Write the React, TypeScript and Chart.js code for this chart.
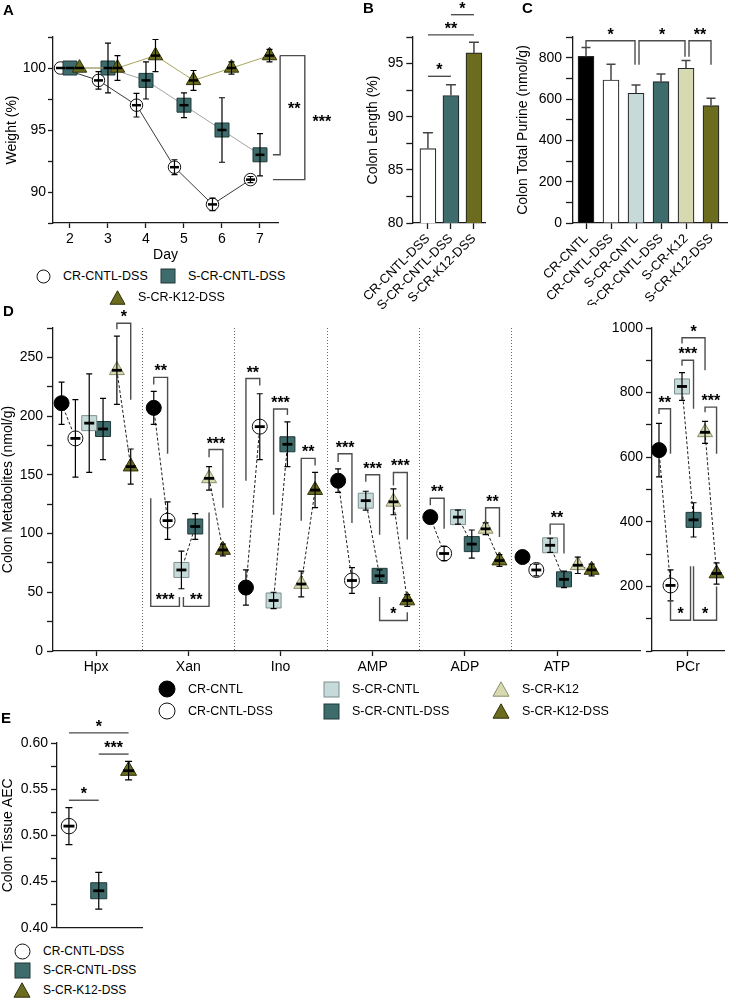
import React, { useEffect, useRef } from 'react';
import { Chart, registerables } from 'chart.js';

Chart.register(...registerables);

const FONT = "'Liberation Sans', Arial, Helvetica, sans-serif";
Chart.defaults.font.family = FONT;
Chart.defaults.color = '#000';

// ---------------- Panel A: body weight ----------------
const dayTicks = [2, 3, 4, 5, 6, 7];
const weightCrCntlDss = [100, 99, 97, 92, 89, 91];
const weightCrCntlDssErr = [0, 0.7, 0.95, 0.6, 0.5, 0.25];
const weightSCrCntlDss = [100, 100, 99, 97, 95, 93];
const weightSCrCntlDssErr = [0, 2, 1.5, 1, 2.6, 1.7];
const weightSCrK12Dss = [100, 100, 101, 99, 100, 101];
const weightSCrK12DssErr = [0, 1, 1.3, 0.8, 0.5, 0.5];
// [top value, bottom value, label]
const weightSig: [number, number, string][] = [
  [101, 93, '**'],
  [101, 91, '***'],
];

// ---------------- Panel B: colon length ----------------
const dssGroups = ['CR-CNTL-DSS', 'S-CR-CNTL-DSS', 'S-CR-K12-DSS'];
const colonLength = [87, 92, 96];
const colonLengthErr = [1.5, 1, 1];
// [group a, group b, level, label]
const lengthSig: [number, number, number, string][] = [
  [0, 1, 93.8, '*'],
  [0, 2, 97.7, '**'],
  [1, 2, 99.6, '*'],
];

// ---------------- Panel C: total purine ----------------
const allGroups = ['CR-CNTL', 'CR-CNTL-DSS', 'S-CR-CNTL', 'S-CR-CNTL-DSS', 'S-CR-K12', 'S-CR-K12-DSS'];
const totalPurine = [806, 692, 628, 684, 749, 568];
const totalPurineErr = [43, 76, 40, 37, 37, 36];
// [group a, group b, level, leg a end, leg b end, label]
const purineSig: [number, number, number, number, number, string][] = [
  [0, 2, 882, 848, 766, '*'],
  [2, 4, 882, 766, 805, '*'],
  [4, 5, 882, 805, 766, '**'],
];

// ---------------- Panel D: metabolites ----------------
const metabolites = ['Hpx', 'Xan', 'Ino', 'AMP', 'ADP', 'ATP'];
const metCrCntl = [211, 207, 54, 145, 114, 80];
const metCrCntlErr = [18, 14, 15, 10, 4, 3];
const metCrCntlDss = [181, 111, 191, 60, 83, 69];
const metCrCntlDssErr = [33, 16, 28, 11, 6, 5];
const metSCrCntl = [194, 69, 43, 128, 114, 90];
const metSCrCntlErr = [42, 16, 7, 8, 6, 6];
const metSCrCntlDss = [189, 106, 176, 64, 91, 61];
const metSCrCntlDssErr = [26, 11, 19, 5, 12, 7];
const metSCrK12 = [239, 147, 57, 127, 104, 73];
const metSCrK12Err = [29, 10, 11, 11, 5, 7];
const metSCrK12Dss = [157, 86, 137, 43, 77, 69];
const metSCrK12DssErr = [15, 5, 15, 5, 5, 5];

const pcrLabels = ['PCr'];
const pcrMeans = [622, 203, 819, 406, 677, 240];
const pcrErr = [83, 48, 43, 53, 34, 33];

// [category, group a, group b, level, leg a end, leg b end, label]
const metSig: [number, number, number, number, number, number, string][] = [
  [0, 4, 5, 279, 274, 214, '*'],
  [1, 0, 1, 233, 227, 168, '**'],
  [1, 4, 5, 171.5, 165, 122, '***'],
  [1, 0, 2, 38, 130, 46, '***'],
  [1, 2, 4, 38, 46, 118, '**'],
  [2, 0, 1, 232, 145, 226, '**'],
  [2, 2, 3, 206, 116, 201, '***'],
  [2, 4, 5, 164, 111, 158, '**'],
  [3, 0, 1, 168, 161, 109, '***'],
  [3, 2, 3, 150, 144, 99, '***'],
  [3, 4, 5, 152, 141, 95, '***'],
  [3, 3, 5, 26, 46, 33, '*'],
  [4, 0, 1, 130, 124, 104, '**'],
  [4, 4, 5, 122, 109, 97, '**'],
  [5, 2, 3, 108, 99, 83, '**'],
];
const pcrSig: [number, number, number, number, number, number, string][] = [
  [0, 0, 1, 750, 734, 611, '**'],
  [0, 2, 3, 900, 883, 750, '***'],
  [0, 2, 4, 970, 952, 869, '*'],
  [0, 4, 5, 755, 739, 611, '***'],
  [0, 1, 3, 95, 158, 262, '*'],
  [0, 3, 5, 95, 262, 200, '*'],
];

// ---------------- Panel E: AEC ----------------
const aecMeans = [0.51, 0.44, 0.57];
const aecErr = [0.02, 0.02, 0.01];
const aecSig: [number, number, number, string][] = [
  [0, 1, 0.538, '*'],
  [1, 2, 0.588, '***'],
  [0, 2, 0.611, '*'],
];

// ---------------- styles ----------------
const GROUP_STYLE = [
  { fill: '#000000', stroke: '#000000', shape: 'circle' },
  { fill: '#ffffff', stroke: '#111111', shape: 'circle' },
  { fill: '#c6dada', stroke: '#7d8f8f', shape: 'rect' },
  { fill: '#3e6b6b', stroke: '#1f3939', shape: 'rect' },
  { fill: '#d7dab0', stroke: '#8a8c68', shape: 'triangle' },
  { fill: '#6b6c1e', stroke: '#303109', shape: 'triangle' },
];
const AXIS = '#1a1a1a';
const BRACKET = '#4d4d4d';
const GROUP_OFFS = [-0.375, -0.225, -0.075, 0.075, 0.225, 0.375];

function radiusFor(shape: string, size: number) {
  if (shape === 'circle') return size / 2;
  if (shape === 'rect') return size / Math.SQRT2;
  return size / Math.sqrt(3);
}

function drawStars(ctx: CanvasRenderingContext2D, x: number, baseline: number, label: string) {
  ctx.save();
  ctx.fillStyle = '#000';
  ctx.font = `bold 16px ${FONT}`;
  ctx.textAlign = 'center';
  ctx.textBaseline = 'alphabetic';
  ctx.fillText(label, x, baseline);
  ctx.restore();
}

// error bars + mean lines
const errorBarsPlugin = {
  id: 'errorBars',
  afterDatasetsDraw(chart: any) {
    const ctx = chart.ctx as CanvasRenderingContext2D;
    chart.data.datasets.forEach((ds: any, i: number) => {
      if (!ds.errors) return;
      const meta = chart.getDatasetMeta(i);
      const ys = chart.scales[meta.yAxisID];
      ctx.save();
      meta.data.forEach((el: any, j: number) => {
        const raw = ds.data[j];
        const v = raw && typeof raw === 'object' ? raw.y : raw;
        if (v == null) return;
        const e = ds.errors[j] || 0;
        const x = el.x;
        const yc = ys.getPixelForValue(v);
        const cap = ds.capHalf ?? 3;
        ctx.strokeStyle = ds.errColor || '#000';
        ctx.lineWidth = ds.errWidth || 1.2;
        if (e > 0) {
          const yT = ys.getPixelForValue(v + e);
          const yB = ds.errUpOnly ? yc : ys.getPixelForValue(v - e);
          ctx.beginPath();
          ctx.moveTo(x, yB);
          ctx.lineTo(x, yT);
          ctx.moveTo(x - cap, yT);
          ctx.lineTo(x + cap, yT);
          if (!ds.errUpOnly) {
            ctx.moveTo(x - cap, yB);
            ctx.lineTo(x + cap, yB);
          }
          ctx.stroke();
        }
        if (ds.meanHalf) {
          ctx.strokeStyle = '#000';
          ctx.lineWidth = ds.meanWidth || 2.5;
          ctx.beginPath();
          ctx.moveTo(x - ds.meanHalf, yc);
          ctx.lineTo(x + ds.meanHalf, yc);
          ctx.stroke();
        }
      });
      ctx.restore();
    });
  },
};
Chart.register(errorBarsPlugin);

type Br = { x1: number; x2: number; yH: number; y1: number; y2: number; label: string; n1?: number; n2?: number };
function bracketsPlugin(id: string, items: Br[]) {
  return {
    id,
    afterDraw(chart: any) {
      const ctx = chart.ctx as CanvasRenderingContext2D;
      const xs = chart.scales.x;
      const ys = chart.scales.y;
      ctx.save();
      ctx.strokeStyle = BRACKET;
      ctx.lineWidth = 1.4;
      items.forEach((b) => {
        const X1 = xs.getPixelForValue(b.x1) + (b.n1 || 0);
        const X2 = xs.getPixelForValue(b.x2) + (b.n2 || 0);
        const YH = ys.getPixelForValue(b.yH);
        ctx.beginPath();
        ctx.moveTo(X1, ys.getPixelForValue(b.y1));
        ctx.lineTo(X1, YH);
        ctx.lineTo(X2, YH);
        ctx.lineTo(X2, ys.getPixelForValue(b.y2));
        ctx.stroke();
        drawStars(ctx, (X1 + X2) / 2, YH - 1, b.label);
      });
      ctx.restore();
    },
  };
}

const baseOpts = {
  responsive: false,
  animation: false,
  devicePixelRatio: 1,
  events: [] as string[],
  plugins: { legend: { display: false }, tooltip: { enabled: false } },
};

function yScale(o: any) {
  return {
    type: 'linear',
    position: 'left',
    min: o.min,
    max: o.max,
    beginAtZero: false,
    afterFit: (s: any) => {
      s.width = o.w;
    },
    border: { display: true, color: AXIS, width: 1.3 },
    grid: { display: true, drawOnChartArea: false, drawTicks: true, tickLength: o.tl, tickColor: AXIS, tickWidth: 1.3 },
    ticks: {
      stepSize: o.step,
      autoSkip: false,
      padding: o.pad,
      color: '#000',
      font: { size: 14, family: FONT },
      callback: o.fmt,
    },
    title: o.title
      ? { display: true, text: o.title, color: '#000', font: { size: 14, family: FONT }, padding: { top: o.titlePad ?? 4, bottom: 0 } }
      : { display: false },
  };
}

function xScale(o: any) {
  const show = o.ticks && o.ticks.length > 0;
  return {
    type: 'linear',
    position: 'bottom',
    min: o.min,
    max: o.max,
    offset: false,
    afterFit: (s: any) => {
      s.height = o.h;
    },
    afterBuildTicks: (s: any) => {
      if (show) s.ticks = o.ticks.map((v: number) => ({ value: v }));
    },
    border: { display: true, color: AXIS, width: 1.3 },
    grid: { display: show, offset: false, drawOnChartArea: false, drawTicks: true, tickLength: o.tl ?? 5, tickColor: AXIS, tickWidth: 1.3 },
    ticks: {
      display: show,
      autoSkip: false,
      padding: o.pad ?? 3,
      minRotation: o.rot ?? 0,
      maxRotation: o.rot ?? 0,
      color: '#000',
      font: { size: o.fontSize ?? 14, family: FONT },
      callback: (_v: any, i: number) => (o.labels ? o.labels[i] : ''),
    },
    title: o.title
      ? { display: true, text: o.title, color: '#000', font: { size: 14, family: FONT }, padding: { top: 0, bottom: 4 } }
      : { display: false },
  };
}

// ---------------- chart builders ----------------
function makeA(): any {
  const series = [
    { vals: weightCrCntlDss, errs: weightCrCntlDssErr, g: 1, line: '#3a3a3a', size: 12.5, off: -0.25 },
    { vals: weightSCrCntlDss, errs: weightSCrCntlDssErr, g: 3, line: '#a3a3a3', size: 14, off: 0 },
    { vals: weightSCrK12Dss, errs: weightSCrK12DssErr, g: 5, line: '#a9a55e', size: 14.5, off: 0.25 },
  ];
  const datasets = series.map((s, i) => {
    const st = GROUP_STYLE[s.g];
    return {
      data: s.vals.map((v, j) => ({ x: dayTicks[j] + s.off, y: v })),
      errors: s.errs,
      capHalf: 3,
      meanHalf: 4.5,
      meanWidth: 2.5,
      showLine: true,
      borderColor: s.line,
      borderWidth: 1,
      pointStyle: st.shape,
      pointRadius: radiusFor(st.shape, s.size),
      pointBackgroundColor: st.fill,
      pointBorderColor: st.stroke,
      pointBorderWidth: 1,
      order: 3 - i,
    };
  });
  const geom = [
    { xTop: 7.53, xV: 7.53, xArm: 7.34, lx: 14 },
    { xTop: 7.53, xV: 8.18, xArm: 7.34, lx: 17 },
  ];
  const plugin = {
    id: 'aBr',
    afterDraw(chart: any) {
      const ctx = chart.ctx as CanvasRenderingContext2D;
      const xs = chart.scales.x;
      const ys = chart.scales.y;
      ctx.save();
      ctx.strokeStyle = BRACKET;
      ctx.lineWidth = 1.4;
      weightSig.forEach(([top, bot, label], k) => {
        const g = geom[k];
        const xt = xs.getPixelForValue(g.xTop);
        const xv = xs.getPixelForValue(g.xV);
        const xa = xs.getPixelForValue(g.xArm);
        const yt = ys.getPixelForValue(top);
        const yb = ys.getPixelForValue(bot);
        ctx.beginPath();
        ctx.moveTo(xt, yt);
        ctx.lineTo(xv, yt);
        ctx.lineTo(xv, yb);
        ctx.lineTo(xa, yb);
        ctx.stroke();
        drawStars(ctx, xv + g.lx, (yt + yb) / 2 + 9, label);
      });
      ctx.restore();
    },
  };
  return {
    type: 'scatter',
    data: { datasets },
    options: {
      ...baseOpts,
      layout: { padding: { top: 37, right: 62, left: 0, bottom: 0 } },
      scales: {
        x: xScale({ min: 1.553, max: 7.474, ticks: dayTicks, labels: dayTicks.map(String), h: 45, tl: 5, pad: 3, title: 'Day' }),
        y: yScale({
          min: 87.5,
          max: 102.5,
          step: 2.5,
          w: 53,
          tl: 5,
          pad: 2,
          fmt: (v: number) => (v % 5 === 0 ? String(v) : ''),
          title: 'Weight (%)',
          titlePad: 4,
        }),
      },
    },
    plugins: [plugin],
  };
}

function makeB(): any {
  const fills = [GROUP_STYLE[1].fill, GROUP_STYLE[3].fill, GROUP_STYLE[5].fill];
  const items: Br[] = lengthSig.map(([a, b, lv, label]) => ({ x1: a, x2: b, yH: lv, y1: lv, y2: lv, label }));
  return {
    type: 'bar',
    data: {
      datasets: [
        {
          data: colonLength.map((v, i) => ({ x: i, y: v })),
          backgroundColor: fills,
          borderColor: '#262626',
          borderWidth: 1.2,
          barThickness: 16,
          errors: colonLengthErr,
          errUpOnly: true,
          capHalf: 5,
          errColor: '#454545',
          errWidth: 1.5,
        },
      ],
    },
    options: {
      ...baseOpts,
      layout: { padding: { top: 37, right: 15, left: 0, bottom: 0 } },
      scales: {
        x: xScale({ min: -0.68, max: 2.48, ticks: [0, 1, 2], labels: dssGroups, h: 95, tl: 6, pad: 2, rot: 45, fontSize: 13 }),
        y: yScale({
          min: 80,
          max: 97.5,
          step: 2.5,
          w: 54,
          tl: 6,
          pad: 3,
          fmt: (v: number) => (v % 5 === 0 ? String(v) : ''),
          title: 'Colon Length (%)',
          titlePad: 6,
        }),
      },
    },
    plugins: [bracketsPlugin('bSig', items)],
  };
}

function makeC(): any {
  const fills = GROUP_STYLE.map((g) => g.fill);
  const nudges = [
    [0, -1],
    [3, -1],
    [3, 0],
  ];
  const items: Br[] = purineSig.map(([a, b, lv, ya, yb, label], k) => ({
    x1: a,
    x2: b,
    yH: lv,
    y1: ya,
    y2: yb,
    label,
    n1: nudges[k][0],
    n2: nudges[k][1],
  }));
  return {
    type: 'bar',
    data: {
      datasets: [
        {
          data: totalPurine.map((v, i) => ({ x: i, y: v })),
          backgroundColor: fills,
          borderColor: '#262626',
          borderWidth: 1.2,
          barThickness: 16,
          errors: totalPurineErr,
          errUpOnly: true,
          capHalf: 4.5,
          errColor: '#454545',
          errWidth: 1.5,
        },
      ],
    },
    options: {
      ...baseOpts,
      layout: { padding: { top: 37, right: 9, left: 0, bottom: 0 } },
      scales: {
        x: xScale({ min: -0.52, max: 5.64, ticks: [0, 1, 2, 3, 4, 5], labels: allGroups, h: 82, tl: 6, pad: 2, rot: 45, fontSize: 13 }),
        y: yScale({
          min: 0,
          max: 900,
          step: 100,
          w: 62,
          tl: 7,
          pad: 4,
          fmt: (v: number) => (v % 200 === 0 ? String(v) : ''),
          title: 'Colon Total Purine (nmol/g)',
          titlePad: 4,
        }),
      },
    },
    plugins: [bracketsPlugin('cSig', items)],
  };
}

function markerAndLineDatasets(vals: number[][], errs: number[][], size: number) {
  const markers = GROUP_STYLE.map((st, gi) => ({
    data: vals[gi].map((v, c) => ({ x: c + GROUP_OFFS[gi], y: v })),
    errors: errs[gi],
    capHalf: 3,
    meanHalf: 5,
    meanWidth: 2.8,
    showLine: false,
    pointStyle: st.shape,
    pointRadius: radiusFor(st.shape, size),
    pointBackgroundColor: st.fill,
    pointBorderColor: st.stroke,
    pointBorderWidth: 1,
    order: 1,
  }));
  const pairs = [
    [0, 1],
    [2, 3],
    [4, 5],
  ];
  const lines = pairs.map(([a, b]) => ({
    data: vals[a].flatMap((_, c) => [
      { x: c + GROUP_OFFS[a], y: vals[a][c] },
      { x: c + GROUP_OFFS[b], y: vals[b][c] },
      { x: c + 0.5, y: null },
    ]),
    showLine: true,
    spanGaps: false,
    borderColor: '#1e1e1e',
    borderWidth: 1,
    borderDash: [3, 2],
    pointRadius: 0,
    order: 10,
  }));
  return [...markers, ...lines];
}

function sigItems(list: [number, number, number, number, number, number, string][], nudges: Record<number, [number, number]>): Br[] {
  return list.map(([c, a, b, lv, ya, yb, label], k) => ({
    x1: c + GROUP_OFFS[a],
    x2: c + GROUP_OFFS[b],
    yH: lv,
    y1: ya,
    y2: yb,
    label,
    n1: nudges[k] ? nudges[k][0] : 0,
    n2: nudges[k] ? nudges[k][1] : 0,
  }));
}

function makeDLeft(): any {
  const vals = [metCrCntl, metCrCntlDss, metSCrCntl, metSCrCntlDss, metSCrK12, metSCrK12Dss];
  const errs = [metCrCntlErr, metCrCntlDssErr, metSCrCntlErr, metSCrCntlDssErr, metSCrK12Err, metSCrK12DssErr];
  const separators = {
    id: 'seps',
    beforeDatasetsDraw(chart: any) {
      const ctx = chart.ctx as CanvasRenderingContext2D;
      const xs = chart.scales.x;
      const { top, bottom } = chart.chartArea;
      ctx.save();
      ctx.strokeStyle = '#6a6a6a';
      ctx.lineWidth = 1;
      ctx.setLineDash([1, 2]);
      for (let c = 0; c < metabolites.length - 1; c++) {
        const x = Math.round(xs.getPixelForValue(c + 0.5)) + 0.5;
        ctx.beginPath();
        ctx.moveTo(x, top);
        ctx.lineTo(x, bottom);
        ctx.stroke();
      }
      ctx.restore();
    },
  };
  return {
    type: 'scatter',
    data: { datasets: markerAndLineDatasets(vals, errs, 15) },
    options: {
      ...baseOpts,
      layout: { padding: { top: 30, right: 0, left: 0, bottom: 0 } },
      scales: {
        x: xScale({
          min: -0.468,
          max: 5.904,
          ticks: metabolites.map((_, i) => i),
          labels: metabolites,
          h: 30,
          tl: 5,
          pad: 3,
        }),
        y: yScale({
          min: 0,
          max: 275,
          step: 25,
          w: 53,
          tl: 6,
          pad: 4,
          fmt: (v: number) => (v % 50 === 0 ? String(v) : ''),
          title: 'Colon Metabolites (nmol/g)',
          titlePad: 0,
        }),
      },
    },
    plugins: [separators, bracketsPlugin('dSig', sigItems(metSig, { 3: [-3, -2], 4: [2, 0] }))],
  };
}

function makeDRight(): any {
  const vals = pcrMeans.map((v) => [v]);
  const errs = pcrErr.map((e) => [e]);
  return {
    type: 'scatter',
    data: { datasets: markerAndLineDatasets(vals, errs, 15) },
    options: {
      ...baseOpts,
      layout: { padding: { top: 30, right: 1, left: 0, bottom: 0 } },
      scales: {
        x: xScale({ min: -0.466, max: 0.477, ticks: [0], labels: pcrLabels, h: 30, tl: 5, pad: 3 }),
        y: yScale({
          min: 0,
          max: 1000,
          step: 100,
          w: 56,
          tl: 6,
          pad: 3,
          fmt: (v: number) => (v % 200 === 0 && v > 0 ? String(v) : ''),
        }),
      },
    },
    plugins: [bracketsPlugin('pSig', sigItems(pcrSig, { 4: [0, -3] }))],
  };
}

function makeE(): any {
  const gs = [1, 3, 5];
  const sizes = [15.5, 16, 16];
  const datasets = gs.map((g, i) => {
    const st = GROUP_STYLE[g];
    return {
      data: [{ x: i, y: aecMeans[i] }],
      errors: [aecErr[i]],
      capHalf: 3.5,
      meanHalf: 5.5,
      meanWidth: 2.8,
      showLine: false,
      pointStyle: st.shape,
      pointRadius: radiusFor(st.shape, sizes[i]),
      pointBackgroundColor: st.fill,
      pointBorderColor: st.stroke,
      pointBorderWidth: 1,
    };
  });
  const items: Br[] = aecSig.map(([a, b, lv, label]) => ({ x1: a, x2: b, yH: lv, y1: lv, y2: lv, label }));
  return {
    type: 'scatter',
    data: { datasets },
    options: {
      ...baseOpts,
      layout: { padding: { top: 31, right: 18, left: 0, bottom: 0 } },
      scales: {
        x: xScale({ min: -0.4, max: 2.45, ticks: [], h: 10 }),
        y: yScale({
          min: 0.4,
          max: 0.6,
          step: 0.025,
          w: 57,
          tl: 6,
          pad: 3,
          fmt: (v: number) => (Math.round(v * 1000) % 50 === 0 ? v.toFixed(2) : ''),
          title: 'Colon Tissue AEC',
          titlePad: 0,
        }),
      },
    },
    plugins: [bracketsPlugin('eSig', items)],
  };
}

// ---------------- components ----------------
function ChartCanvas({ left, top, width, height, make }: { left: number; top: number; width: number; height: number; make: () => any }) {
  const ref = useRef<HTMLCanvasElement | null>(null);
  useEffect(() => {
    if (!ref.current) return;
    const chart = new Chart(ref.current, make());
    return () => chart.destroy();
  }, [make]);
  return <canvas ref={ref} width={width} height={height} style={{ position: 'absolute', left, top, width, height }} />;
}

function Shape({ g, size }: { g: number; size: number }) {
  const st = GROUP_STYLE[g];
  const s = size;
  let el: any;
  if (st.shape === 'circle') el = <circle cx={s / 2 + 1} cy={s / 2 + 1} r={s / 2} fill={st.fill} stroke={st.stroke} strokeWidth={1} />;
  else if (st.shape === 'rect') el = <rect x={1} y={1} width={s} height={s} fill={st.fill} stroke={st.stroke} strokeWidth={1} />;
  else {
    const h = s * 0.9;
    const y0 = 1 + (s - h) / 2;
    el = <polygon points={`${s / 2 + 1},${y0} ${s + 1},${y0 + h} 1,${y0 + h}`} fill={st.fill} stroke={st.stroke} strokeWidth={1} />;
  }
  return (
    <svg width={s + 2} height={s + 2} style={{ display: 'block' }}>
      {el}
    </svg>
  );
}

function LegendItem({ x, y, g, size, textX, fs }: { x: number; y: number; g: number; size: number; textX: number; fs: number }) {
  return (
    <>
      <div style={{ position: 'absolute', left: x - size / 2 - 1, top: y - size / 2 - 1 }}>
        <Shape g={g} size={size} />
      </div>
      <div
        style={{
          position: 'absolute',
          left: textX,
          top: y - fs * 0.59,
          fontSize: fs,
          lineHeight: `${fs * 1.2}px`,
          fontFamily: FONT,
          whiteSpace: 'nowrap',
          color: '#000',
        }}
      >
        {allGroups[g]}
      </div>
    </>
  );
}

function PanelLabel({ x, y, text }: { x: number; y: number; text: string }) {
  const fs = 15;
  return (
    <div
      style={{
        position: 'absolute',
        left: x,
        top: y - fs * 0.59,
        fontSize: fs,
        lineHeight: `${fs * 1.2}px`,
        fontWeight: 'bold',
        fontFamily: FONT,
        color: '#000',
      }}
    >
      {text}
    </div>
  );
}

export default function App() {
  return (
    <div
      style={{
        position: 'absolute',
        left: 0,
        top: 0,
        width: 736,
        height: 1000,
        background: '#fff',
        overflow: 'hidden',
        fontFamily: FONT,
      }}
    >
      <ChartCanvas left={0} top={0} width={340} height={268} make={makeA} />
      <ChartCanvas left={352} top={0} width={148} height={318} make={makeB} />
      <ChartCanvas left={511} top={0} width={225} height={305} make={makeC} />
      <ChartCanvas left={0} top={298} width={652} height={383} make={makeDLeft} />
      <ChartCanvas left={596} top={298} width={140} height={383} make={makeDRight} />
      <ChartCanvas left={0} top={712} width={160} height={228} make={makeE} />

      <PanelLabel x={3} y={10} text="A" />
      <PanelLabel x={363} y={8} text="B" />
      <PanelLabel x={522} y={8} text="C" />
      <PanelLabel x={3} y={311} text="D" />
      <PanelLabel x={1} y={718} text="E" />

      <LegendItem x={43} y={276} g={1} size={13} textX={63} fs={12.5} />
      <LegendItem x={168} y={276} g={3} size={14} textX={188} fs={12.5} />
      <LegendItem x={117} y={297} g={5} size={15} textX={138} fs={12.5} />

      <LegendItem x={167} y={689} g={0} size={16} textX={188} fs={12.5} />
      <LegendItem x={167} y={711} g={1} size={16} textX={188} fs={12.5} />
      <LegendItem x={331} y={689} g={2} size={15} textX={352} fs={12.5} />
      <LegendItem x={331} y={711} g={3} size={15} textX={352} fs={12.5} />
      <LegendItem x={501} y={689} g={4} size={16} textX={522} fs={12.5} />
      <LegendItem x={501} y={711} g={5} size={16} textX={522} fs={12.5} />

      <LegendItem x={22} y={951} g={1} size={15} textX={43} fs={12} />
      <LegendItem x={22} y={970} g={3} size={15} textX={43} fs={12} />
      <LegendItem x={22} y={990} g={5} size={16} textX={43} fs={12} />
    </div>
  );
}
